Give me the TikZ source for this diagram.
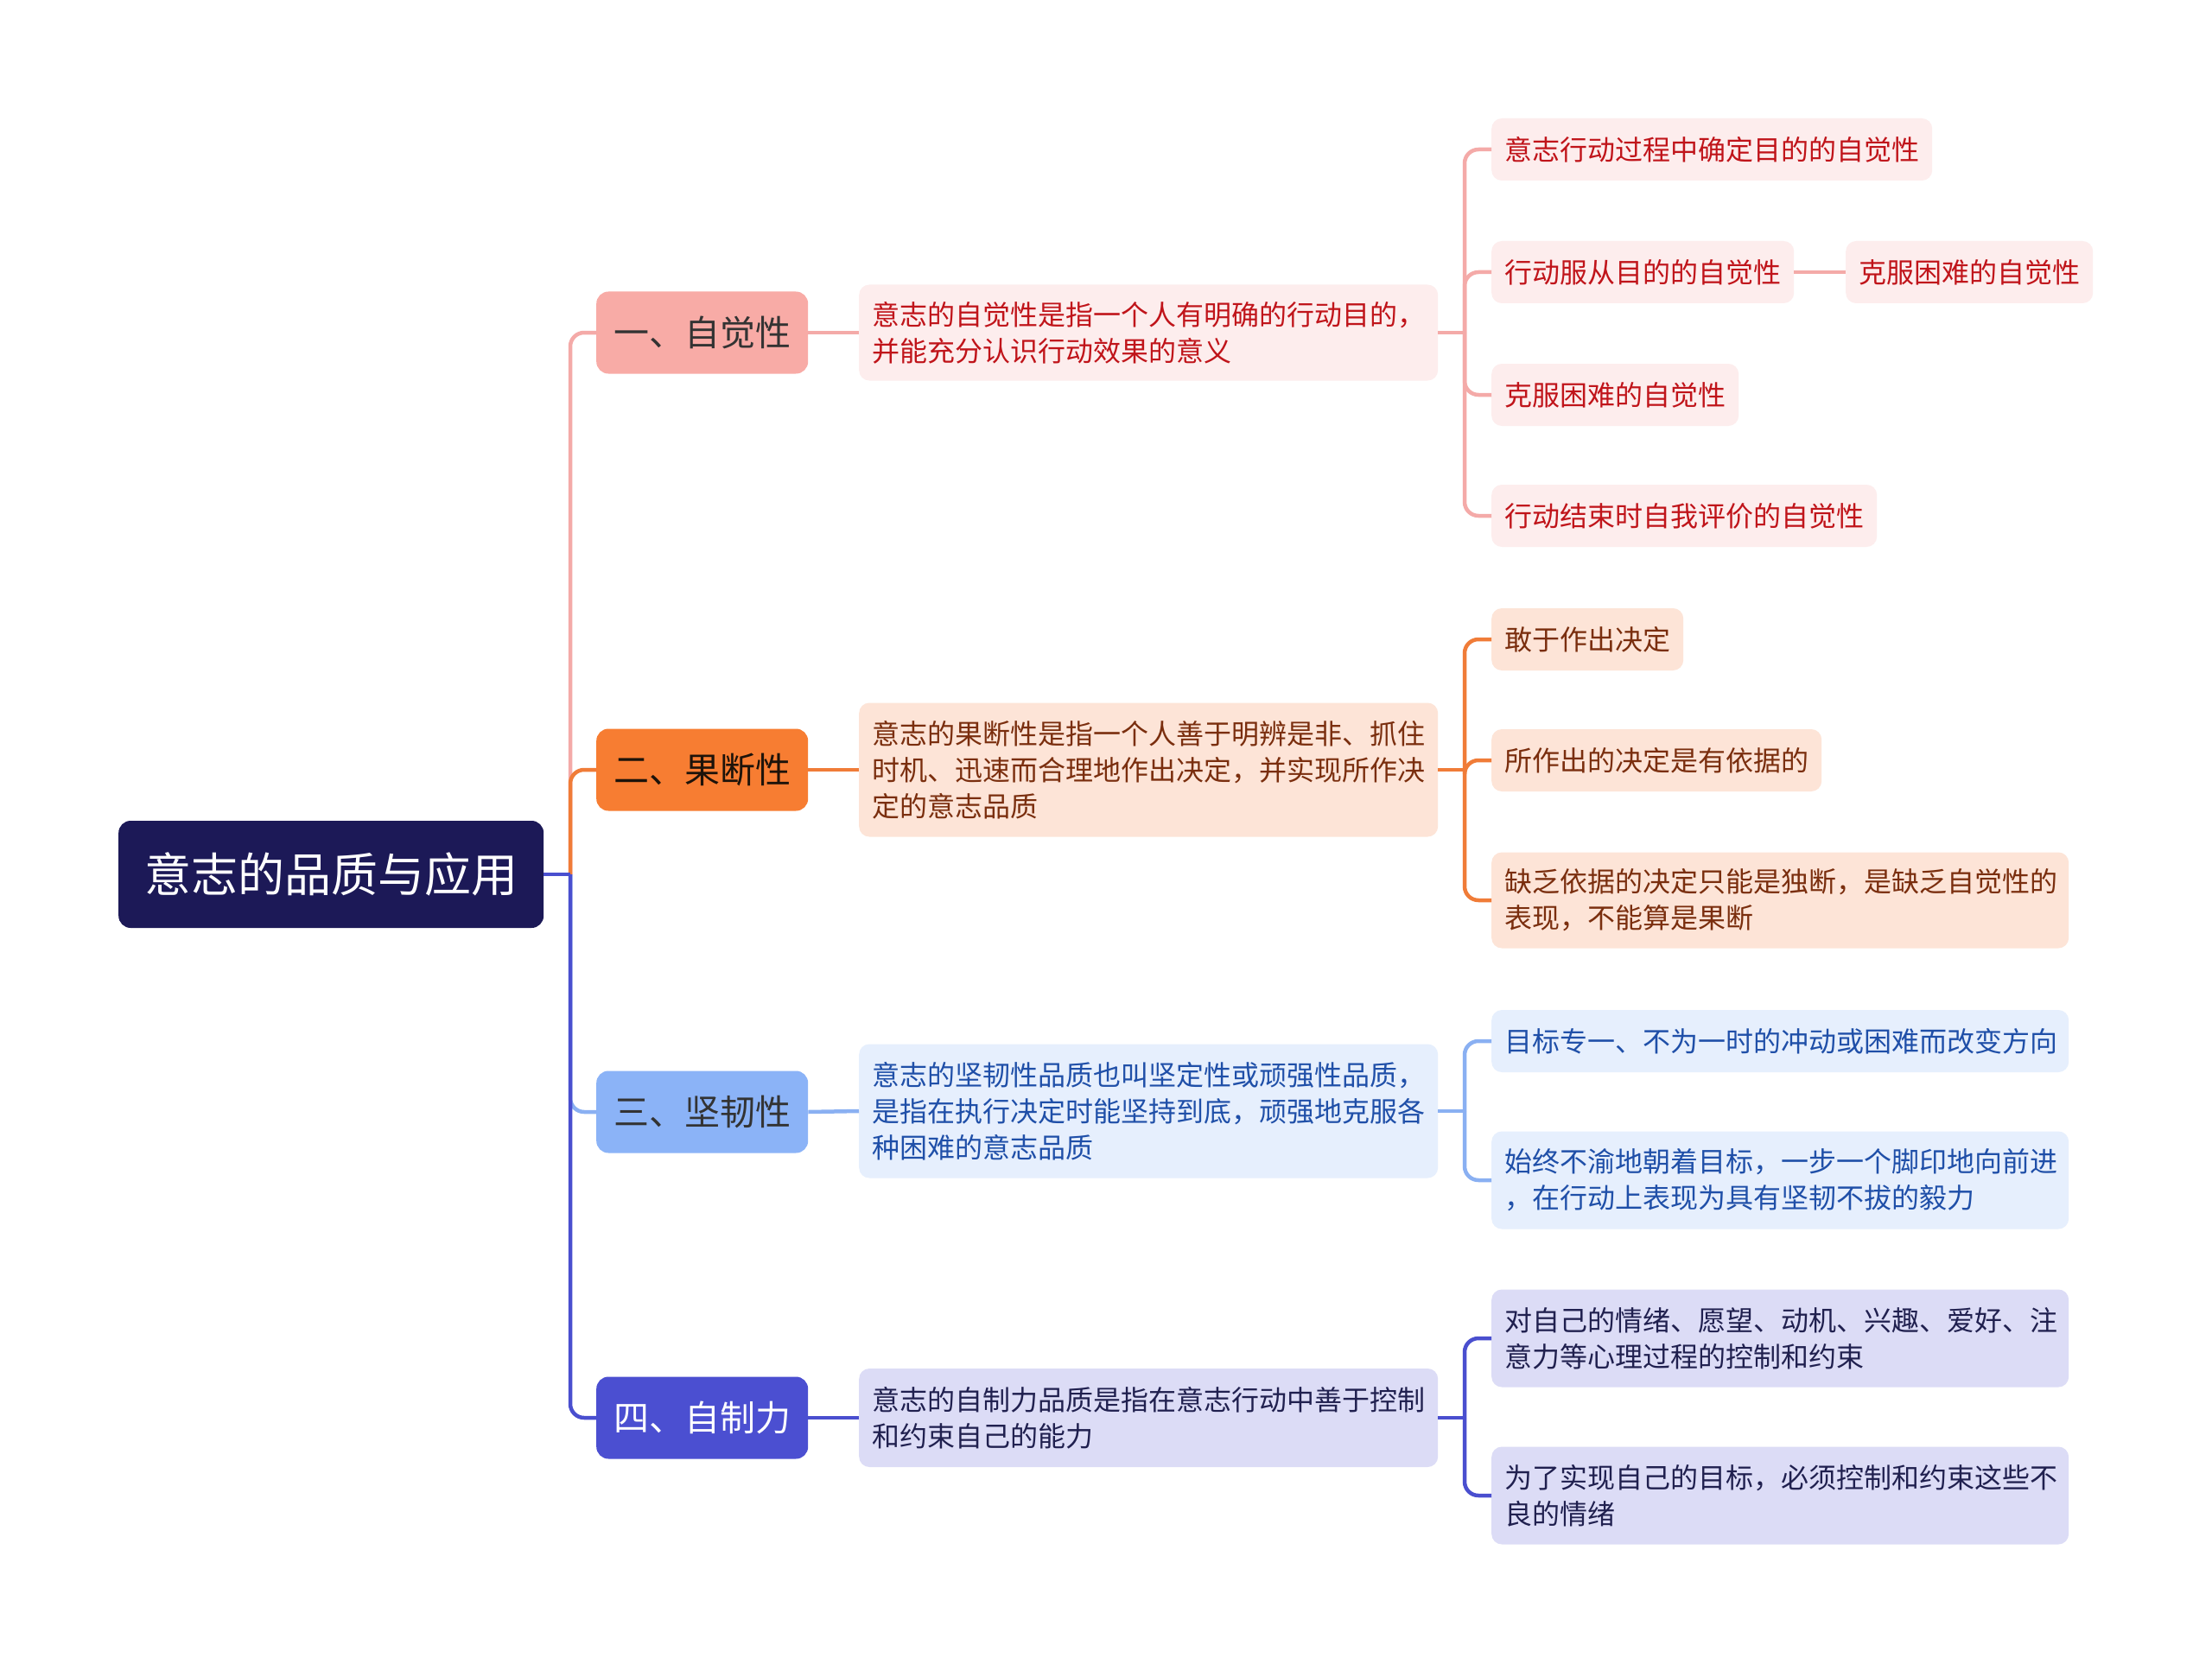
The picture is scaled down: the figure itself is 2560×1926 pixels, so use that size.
\documentclass[tikz,border=0pt]{standalone}
\usepackage{fontspec}
\setmainfont{Noto Sans CJK SC}
\definecolor{rootc}{HTML}{1C1957}
\definecolor{fA}{HTML}{F8ABA6}
\definecolor{fB}{HTML}{F77D32}
\definecolor{fC}{HTML}{8BB3F7}
\definecolor{fD}{HTML}{4B4FD1}
\definecolor{lA}{HTML}{FDEDED}
\definecolor{lB}{HTML}{FDE4D7}
\definecolor{lC}{HTML}{E6EFFD}
\definecolor{lD}{HTML}{DCDCF6}
\definecolor{tA}{HTML}{C0141A}
\definecolor{tB}{HTML}{7A2E0E}
\definecolor{tC}{HTML}{1F4FA8}
\definecolor{tD}{HTML}{20204F}
\definecolor{kA}{HTML}{F4AAA8}
\definecolor{kB}{HTML}{F07C38}
\definecolor{kC}{HTML}{8AB0F2}
\definecolor{kD}{HTML}{4A4FCF}
\newcommand\fsM{\fontsize{32pt}{42pt}\selectfont}
\newcommand\fsL{\fontsize{41pt}{48pt}\selectfont}
\newcommand\fsR{\fontsize{54pt}{60pt}\selectfont}
\begin{document}
\begin{tikzpicture}[x=1pt,y=-1pt,
  base/.style={rounded corners=12pt, inner ysep=0pt, anchor=west, font=\fsM, align=left},
  rootbox/.style={base, fill=rootc, text=white, font=\fsR, inner xsep=30pt, minimum height=124pt, rounded corners=14pt},
  lone/.style={base, inner xsep=20pt, minimum height=95pt, font=\fsL, rounded corners=14pt},
  ltwo/.style={base, inner xsep=15pt, text width=640pt},
  lthree/.style={base, inner xsep=15pt, minimum height=72pt},
  wide/.style={lthree, text width=638pt},
  conn/.style={line width=4.5pt, rounded corners=16pt}
]
\useasboundingbox (0,0) rectangle (2560,1926);
\fill[white] (0,0) rectangle (2560,1926);

% nodes
\node[rootbox] (root) at (137,1012) {意志的品质与应用};

\node[lone, fill=fA, text=black!80] (n1) at (690,385) {一、自觉性};
\node[lone, fill=fB, text=black!85!brown] (n2) at (690,891) {二、果断性};
\node[lone, fill=fC, text=black!80] (n3) at (690,1287) {三、坚韧性};
\node[lone, fill=fD, text=white] (n4) at (690,1641) {四、自制力};

\node[ltwo, fill=lA, text=tA, minimum height=111pt] (a) at (994,385) {意志的自觉性是指一个人有明确的行动目的，\\并能充分认识行动效果的意义};
\node[ltwo, fill=lB, text=tB, minimum height=155pt] (b) at (994,891) {意志的果断性是指一个人善于明辨是非、抓住\\时机、迅速而合理地作出决定，并实现所作决\\定的意志品质};
\node[ltwo, fill=lC, text=tC, minimum height=155pt] (c) at (994,1286) {意志的坚韧性品质也叫坚定性或顽强性品质，\\是指在执行决定时能坚持到底，顽强地克服各\\种困难的意志品质};
\node[ltwo, fill=lD, text=tD, minimum height=114pt] (d) at (994,1641) {意志的自制力品质是指在意志行动中善于控制\\和约束自己的能力};

\node[lthree, fill=lA, text=tA] (a1) at (1726,173) {意志行动过程中确定目的的自觉性};
\node[lthree, fill=lA, text=tA] (a2) at (1726,315) {行动服从目的的自觉性};
\node[lthree, fill=lA, text=tA] (a2b) at (2136,315) {克服困难的自觉性};
\node[lthree, fill=lA, text=tA] (a3) at (1726,457) {克服困难的自觉性};
\node[lthree, fill=lA, text=tA] (a4) at (1726,597) {行动结束时自我评价的自觉性};

\node[lthree, fill=lB, text=tB] (b1) at (1726,740) {敢于作出决定};
\node[lthree, fill=lB, text=tB] (b2) at (1726,880) {所作出的决定是有依据的};
\node[wide, fill=lB, text=tB, minimum height=111pt] (b3) at (1726,1042) {缺乏依据的决定只能是独断，是缺乏自觉性的\\表现，不能算是果断};

\node[wide, fill=lC, text=tC] (c1) at (1726,1205) {目标专一、不为一时的冲动或困难而改变方向};
\node[wide, fill=lC, text=tC, minimum height=113pt] (c2) at (1726,1366) {始终不渝地朝着目标，一步一个脚印地向前进\\，在行动上表现为具有坚韧不拔的毅力};

\node[wide, fill=lD, text=tD, minimum height=113pt] (d1) at (1726,1549) {对自己的情绪、愿望、动机、兴趣、爱好、注\\意力等心理过程的控制和约束};
\node[wide, fill=lD, text=tD, minimum height=113pt] (d2) at (1726,1731) {为了实现自己的目标，必须控制和约束这些不\\良的情绪};

% connectors root -> level 1
\coordinate (rb) at (660,1012);
\draw[conn, kA] (rb) |- (n1.west);
\draw[conn, kB] (rb) |- (n2.west);
\draw[conn, kC] (rb) |- (n3.west);
\draw[conn, kD] (rb) |- (n4.west);
\draw[conn, kD] (root.east) -- (rb);

% level 1 -> level 2
\draw[conn, kA] (n1.east) -- (a.west);
\draw[conn, kB] (n2.east) -- (b.west);
\draw[conn, kC] (n3.east) -- (c.west);
\draw[conn, kD] (n4.east) -- (d.west);

% level 2 -> level 3
\coordinate (ab) at (1695,385);
\coordinate (bb) at (1695,891);
\coordinate (cb) at (1695,1286);
\coordinate (db) at (1695,1641);
\draw[conn, kA] (a.east) -- (ab);
\draw[conn, kA] (ab) |- (a1.west);
\draw[conn, kA] (ab) |- (a2.west);
\draw[conn, kA] (ab) |- (a3.west);
\draw[conn, kA] (ab) |- (a4.west);
\draw[conn, kA] (a2.east) -- (a2b.west);

\draw[conn, kB] (b.east) -- (bb);
\draw[conn, kB] (bb) |- (b1.west);
\draw[conn, kB] (bb) |- (b2.west);
\draw[conn, kB] (bb) |- (b3.west);

\draw[conn, kC] (c.east) -- (cb);
\draw[conn, kC] (cb) |- (c1.west);
\draw[conn, kC] (cb) |- (c2.west);

\draw[conn, kD] (d.east) -- (db);
\draw[conn, kD] (db) |- (d1.west);
\draw[conn, kD] (db) |- (d2.west);
\end{tikzpicture}
\end{document}
